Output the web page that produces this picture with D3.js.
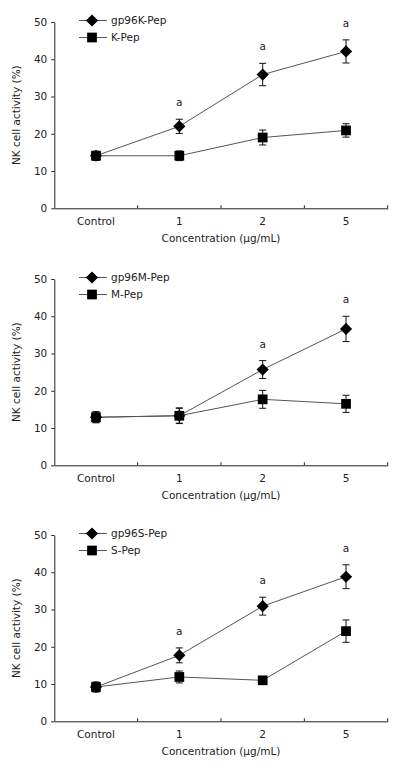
<!DOCTYPE html>
<html><head><meta charset="utf-8">
<script src="https://cdn.jsdelivr.net/npm/d3@7"></script>
<style>
body{margin:0;background:#fff;}
svg{display:block;font-family:"DejaVu Sans",Verdana,sans-serif;}
</style></head>
<body>
<script>
const categories = ["Control", "1", "2", "5"];
const yTicks = [0, 10, 20, 30, 40, 50];
const xTitle = "Concentration (\u03bcg/mL)";
const yTitle = "NK cell activity (%)";

// Panel 1
const p1Names = ["gp96K-Pep", "K-Pep"];
const p1Gp = [14.1, 22.0, 35.9, 42.1];
const p1GpErr = [1.2, 1.9, 3.0, 3.1];
const p1Pep = [14.1, 14.1, 19.0, 20.9];
const p1PepErr = [1.2, 1.3, 2.0, 1.8];
const p1Sig = ["", "a", "a", "a"];

// Panel 2
const p2Names = ["gp96M-Pep", "M-Pep"];
const p2Gp = [12.9, 13.3, 25.7, 36.6];
const p2GpErr = [1.4, 2.0, 2.4, 3.4];
const p2Pep = [12.9, 13.3, 17.7, 16.5];
const p2PepErr = [1.5, 2.1, 2.4, 2.3];
const p2Sig = ["", "", "a", "a"];

// Panel 3
const p3Names = ["gp96S-Pep", "S-Pep"];
const p3Gp = [9.2, 17.7, 30.9, 38.8];
const p3GpErr = [1.3, 2.0, 2.4, 3.2];
const p3Pep = [9.2, 11.9, 11.0, 24.2];
const p3PepErr = [1.3, 1.6, 1.0, 3.0];
const p3Sig = ["", "a", "a", "a"];

const panels = [
  {names: p1Names, gp: p1Gp, gpErr: p1GpErr, pep: p1Pep, pepErr: p1PepErr, sig: p1Sig},
  {names: p2Names, gp: p2Gp, gpErr: p2GpErr, pep: p2Pep, pepErr: p2PepErr, sig: p2Sig},
  {names: p3Names, gp: p3Gp, gpErr: p3GpErr, pep: p3Pep, pepErr: p3PepErr, sig: p3Sig}
];

const W = 400, H = 768;
const svg = d3.select("body").append("svg").attr("width", W).attr("height", H);

const left = 54.3, right = 387.7, plotH = 186.3;
const tops = [22, 279, 535];
const fs = 10.5;
const lineColor = "#555";

const x = d3.scaleBand().domain(categories).range([left, right]);
const diamond = d3.symbol().type(d3.symbolDiamond2).size(95);
const square = d3.symbol().type(d3.symbolSquare).size(95);

panels.forEach((p, i) => {
  const top = tops[i];
  const y = d3.scaleLinear().domain([0, 50]).range([top + plotH, top]);
  const g = svg.append("g");

  // y axis
  const ya = g.append("g").attr("transform", `translate(${left},0)`)
    .call(d3.axisLeft(y).tickValues(yTicks).tickSize(3).tickPadding(4).tickSizeOuter(0));
  ya.select(".domain").attr("stroke", "#222");
  ya.selectAll(".tick line").attr("stroke", "#222");
  ya.selectAll("text").attr("font-size", fs).attr("fill", "#222").attr("font-family", "DejaVu Sans");

  // x axis
  const xa = g.append("g").attr("transform", `translate(0,${top + plotH})`)
    .call(d3.axisBottom(x).tickSize(0).tickPadding(9));
  xa.select(".domain").attr("stroke", "#222");
  xa.selectAll("text").attr("font-size", fs).attr("fill", "#222").attr("font-family", "DejaVu Sans");
  // inward ticks at band boundaries
  g.append("g").selectAll("line").data(categories).join("line")
    .attr("x1", d => x(d) + x.bandwidth()).attr("x2", d => x(d) + x.bandwidth())
    .attr("y1", top + plotH).attr("y2", top + plotH - 3)
    .attr("stroke", "#222");

  // titles
  g.append("text").attr("x", (left + right) / 2).attr("y", top + plotH + 34)
    .attr("text-anchor", "middle").attr("font-size", fs).attr("fill", "#222").text(xTitle);
  g.append("text").attr("transform", `translate(20,${top + plotH / 2}) rotate(-90)`)
    .attr("text-anchor", "middle").attr("font-size", fs).attr("fill", "#222").text(yTitle);

  const cx = d => x(d) + x.bandwidth() / 2;
  const series = [
    {vals: p.pep, err: p.pepErr, sym: square},
    {vals: p.gp, err: p.gpErr, sym: diamond}
  ];
  const line = d3.line().x((d, j) => cx(categories[j])).y(d => y(d));
  series.forEach(s => {
    g.append("path").attr("d", line(s.vals)).attr("fill", "none")
      .attr("stroke", lineColor).attr("stroke-width", 1);
  });
  series.forEach(s => {
    s.vals.forEach((v, j) => {
      const xx = cx(categories[j]);
      const e = s.err[j];
      const eg = g.append("g").attr("stroke", "#111").attr("stroke-width", 1);
      eg.append("line").attr("x1", xx).attr("x2", xx).attr("y1", y(v - e)).attr("y2", y(v + e));
      eg.append("line").attr("x1", xx - 3.5).attr("x2", xx + 3.5).attr("y1", y(v - e)).attr("y2", y(v - e));
      eg.append("line").attr("x1", xx - 3.5).attr("x2", xx + 3.5).attr("y1", y(v + e)).attr("y2", y(v + e));
      g.append("path").attr("d", s.sym()).attr("transform", `translate(${xx},${y(v)})`).attr("fill", "#000");
    });
  });

  // significance labels
  p.sig.forEach((s, j) => {
    if (!s) return;
    const top2 = Math.max(p.gp[j] + p.gpErr[j], p.pep[j] + p.pepErr[j]);
    g.append("text").attr("x", cx(categories[j])).attr("y", y(top2) - 13)
      .attr("text-anchor", "middle").attr("font-size", fs).attr("fill", "#222").text(s);
  });

  // legend
  const legRows = [
    {name: p.names[0], sym: diamond},
    {name: p.names[1], sym: square}
  ];
  legRows.forEach((r, k) => {
    const ly = top - 1.5 + k * 17;
    g.append("line").attr("x1", 79).attr("x2", 107).attr("y1", ly).attr("y2", ly)
      .attr("stroke", lineColor).attr("stroke-width", 1);
    g.append("path").attr("d", r.sym()).attr("transform", `translate(92,${ly})`).attr("fill", "#000");
    g.append("text").attr("x", 111).attr("y", ly).attr("dy", "0.35em")
      .attr("font-size", fs).attr("fill", "#222").text(r.name);
  });
});
</script>
</body></html>
